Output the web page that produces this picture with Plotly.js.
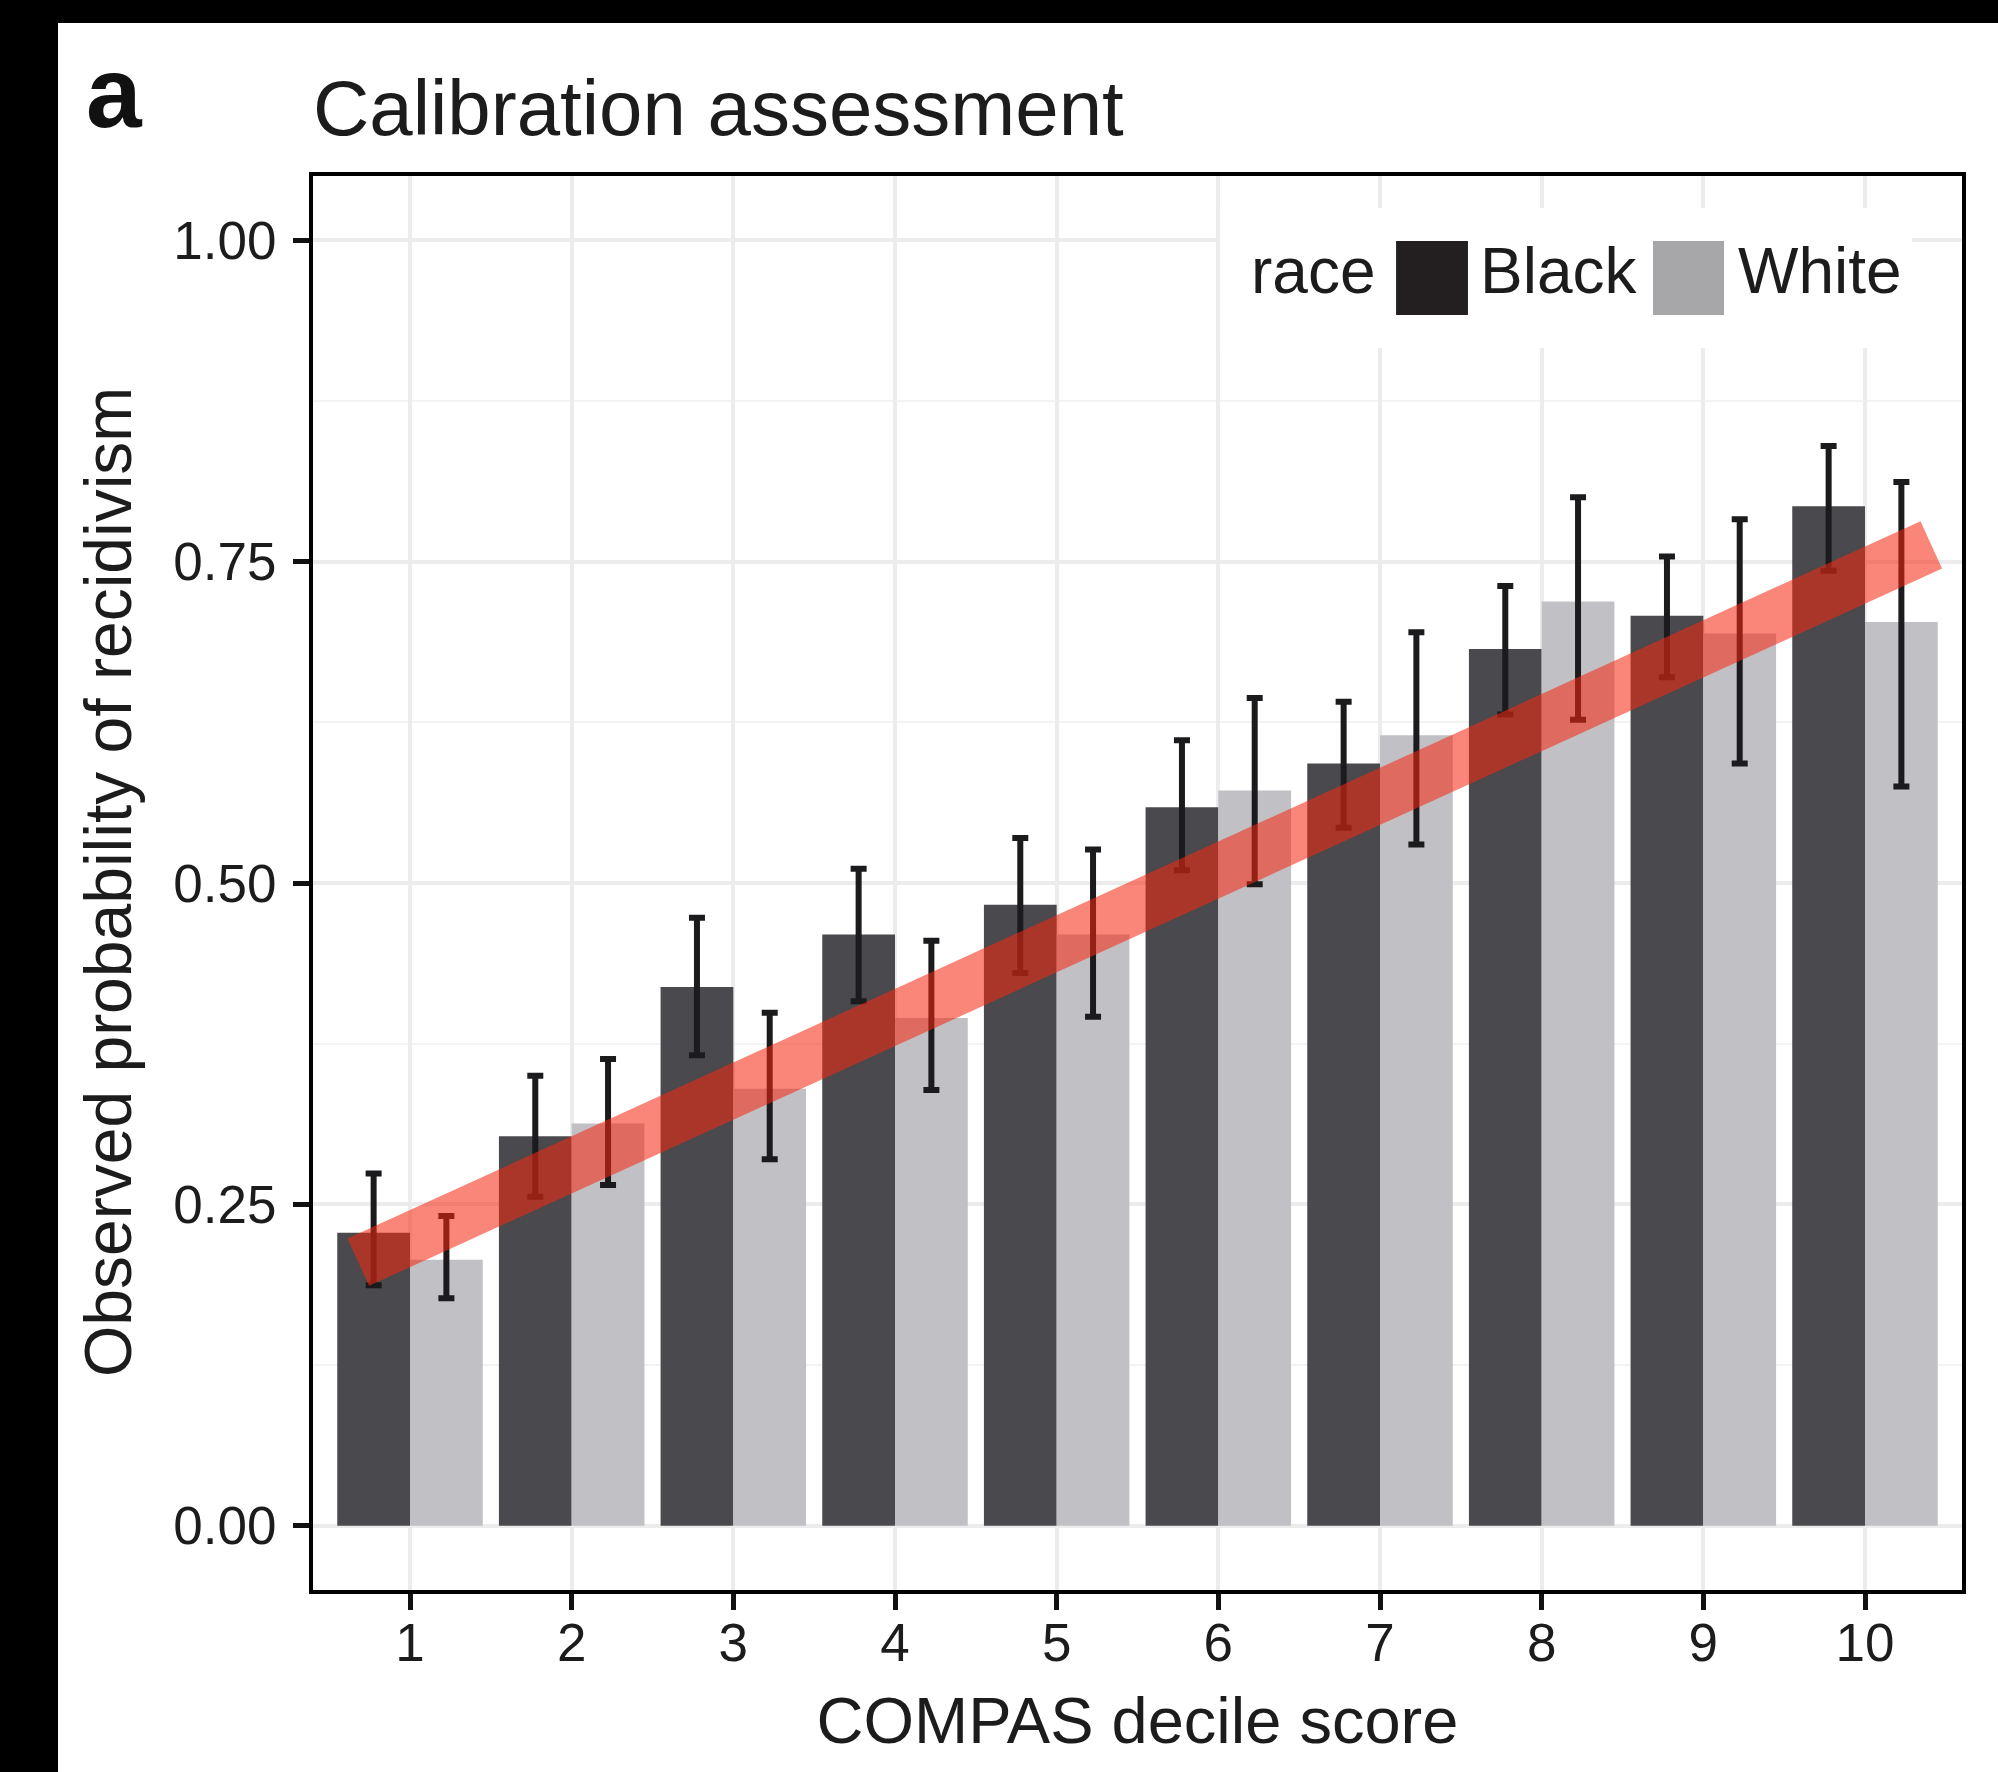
<!DOCTYPE html>
<html>
<head>
<meta charset="utf-8">
<script src="https://cdn.plot.ly/plotly-3.0.1.min.js"></script>
<style>
html,body{margin:0;padding:0;background:#000;width:1998px;height:1772px;overflow:hidden;}
#chart{position:absolute;left:58px;top:23px;width:1940px;height:1749px;background:#fff;}
</style>
</head>
<body>
<div id="chart"></div>
<script>
// ---- data ----
const deciles = [1, 2, 3, 4, 5, 6, 7, 8, 9, 10];
const decileLabels = ['1', '2', '3', '4', '5', '6', '7', '8', '9', '10'];
const blackProb  = [0.228, 0.303, 0.419, 0.460, 0.483, 0.559, 0.593, 0.682, 0.708, 0.793];
const blackUpper = [0.274, 0.350, 0.473, 0.511, 0.535, 0.611, 0.641, 0.731, 0.754, 0.840];
const blackLower = [0.187, 0.256, 0.366, 0.408, 0.430, 0.510, 0.543, 0.631, 0.660, 0.743];
const whiteProb  = [0.207, 0.313, 0.340, 0.395, 0.460, 0.572, 0.615, 0.719, 0.694, 0.703];
const whiteUpper = [0.241, 0.363, 0.399, 0.455, 0.526, 0.644, 0.695, 0.800, 0.783, 0.812];
const whiteLower = [0.177, 0.265, 0.285, 0.339, 0.396, 0.499, 0.530, 0.627, 0.593, 0.575];
const trendX = [0.68, 10.41];
const trendY = [0.205, 0.763];
const yTickVals = [0, 0.25, 0.5, 0.75, 1];
const yTickText = ['0.00', '0.25', '0.50', '0.75', '1.00'];
const raceNames = ['Black', 'White'];

const FONT = '"Liberation Sans", Arial, Helvetica, sans-serif';
const TXT = '#1c1c1c';

function errArrays(prob, up, lo) {
  return {
    type: 'data', symmetric: false,
    array: up.map((u, i) => +(u - prob[i]).toFixed(4)),
    arrayminus: lo.map((l, i) => +(prob[i] - l).toFixed(4)),
    color: '#1b1b1d', thickness: 6, width: 8
  };
}

const traces = [
  {
    type: 'bar', name: raceNames[0], x: deciles, y: blackProb,
    marker: {color: '#4a494d', line: {width: 0}},
    error_y: errArrays(blackProb, blackUpper, blackLower),
    showlegend: false, hoverinfo: 'skip'
  },
  {
    type: 'bar', name: raceNames[1], x: deciles, y: whiteProb,
    marker: {color: '#c1c0c4', line: {width: 0}},
    error_y: errArrays(whiteProb, whiteUpper, whiteLower),
    showlegend: false, hoverinfo: 'skip'
  },
  {
    type: 'scatter', mode: 'lines', x: trendX, y: trendY,
    line: {color: 'rgba(246,40,16,0.56)', width: 52},
    showlegend: false, hoverinfo: 'skip'
  }
];

const layout = {
  width: 1940, height: 1749,
  margin: {l: 255, r: 36, t: 153, b: 182, pad: 0},
  paper_bgcolor: '#ffffff', plot_bgcolor: '#ffffff',
  font: {family: FONT, color: TXT, size: 53},
  barmode: 'group', bargap: 0.1, bargroupgap: 0,
  showlegend: false,
  xaxis: {
    range: [0.4, 10.6], tickmode: 'array', tickvals: deciles, ticktext: decileLabels,
    showgrid: true, gridcolor: '#ececec', gridwidth: 4, zeroline: false,
    showline: true, linecolor: '#000', linewidth: 4, mirror: true,
    ticks: 'outside', ticklen: 16, tickwidth: 5, tickcolor: '#111',
    tickfont: {size: 53, color: TXT, family: FONT}, ticklabelstandoff: -13,
    title: {text: 'COMPAS decile score', font: {size: 65, color: TXT, family: FONT}, standoff: 28},
    automargin: false, fixedrange: true
  },
  yaxis: {
    range: [-0.05, 1.05], tickmode: 'array', tickvals: yTickVals, ticktext: yTickText,
    showgrid: true, gridcolor: '#ececec', gridwidth: 4, zeroline: false,
    minor: {tickmode: 'array', tickvals: [0.125, 0.375, 0.625, 0.875], showgrid: true, gridcolor: '#f3f3f3', gridwidth: 2, ticks: ''},
    showline: true, linecolor: '#000', linewidth: 4, mirror: true,
    ticks: 'outside', ticklen: 16, tickwidth: 5, tickcolor: '#111',
    tickfont: {size: 53, color: TXT, family: FONT}, ticklabelstandoff: 6,
    title: {text: ''},
    automargin: false, fixedrange: true
  },
  shapes: [
    {type: 'rect', xref: 'paper', yref: 'paper', x0: 0.550, x1: 0.9697, y0: 0.8784, y1: 0.9774,
     fillcolor: '#ffffff', line: {width: 0}, layer: 'above'},
    {type: 'rect', xref: 'paper', yref: 'paper', x0: 0.6568, x1: 0.7004, y0: 0.9017, y1: 0.9540,
     fillcolor: '#231f20', line: {width: 0}, layer: 'above'},
    {type: 'rect', xref: 'paper', yref: 'paper', x0: 0.8126, x1: 0.8557, y0: 0.9017, y1: 0.9540,
     fillcolor: '#a7a7a9', line: {width: 0}, layer: 'above'}
  ],
  annotations: [
    {text: '<b>a</b>', xref: 'paper', yref: 'paper', x: -0.1388, y: 1.0592, xanchor: 'left', yanchor: 'middle',
     showarrow: false, font: {size: 100, color: '#111', family: FONT}},
    {text: 'Calibration assessment', xref: 'paper', yref: 'paper', x: -0.001, y: 1.0479, xanchor: 'left', yanchor: 'middle',
     showarrow: false, font: {size: 78, color: TXT, family: FONT}},
    {text: 'Observed probability of recidivism', xref: 'paper', yref: 'paper', x: -0.1243, y: 0.5007,
     xanchor: 'center', yanchor: 'middle', textangle: -90,
     showarrow: false, font: {size: 66, color: TXT, family: FONT}},
    {text: 'race', xref: 'paper', yref: 'paper', x: 0.5676, y: 0.9330, xanchor: 'left', yanchor: 'middle',
     showarrow: false, font: {size: 64, color: TXT, family: FONT}},
    {text: raceNames[0], xref: 'paper', yref: 'paper', x: 0.7065, y: 0.9330, xanchor: 'left', yanchor: 'middle',
     showarrow: false, font: {size: 64, color: TXT, family: FONT}},
    {text: raceNames[1], xref: 'paper', yref: 'paper', x: 0.8630, y: 0.9330, xanchor: 'left', yanchor: 'middle',
     showarrow: false, font: {size: 64, color: TXT, family: FONT}}
  ]
};

Plotly.newPlot('chart', traces, layout, {staticPlot: true, displayModeBar: false});
</script>
</body>
</html>
